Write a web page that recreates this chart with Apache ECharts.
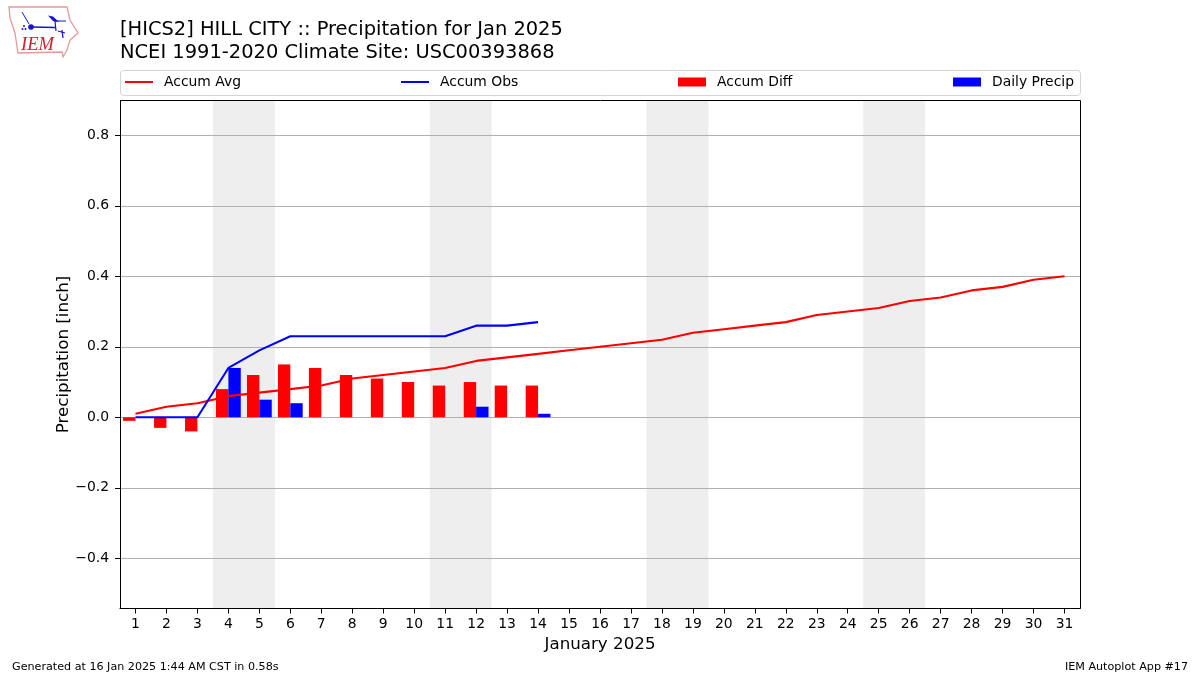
<!DOCTYPE html>
<html><head><meta charset="utf-8">
<script src="https://cdn.jsdelivr.net/npm/echarts@6/dist/echarts.min.js"></script>
<style>html,body{margin:0;padding:0;background:#fff}#c{width:1200px;height:675px}</style>
</head><body><div id="c"></div>
<script>
const days = ["1","2","3","4","5","6","7","8","9","10","11","12","13","14","15","16","17","18","19","20","21","22","23","24","25","26","27","28","29","30","31"];
const accumAvg = [0.01,0.03,0.04,0.06,0.07,0.08,0.09,0.11,0.12,0.13,0.14,0.16,0.17,0.18,0.19,0.20,0.21,0.22,0.24,0.25,0.26,0.27,0.29,0.30,0.31,0.33,0.34,0.36,0.37,0.39,0.40];
const accumObs = [0,0,0,0.14,0.19,0.23,0.23,0.23,0.23,0.23,0.23,0.26,0.26,0.27];
const accumDiff = [-0.01,-0.03,-0.04,0.08,0.12,0.15,0.14,0.12,0.11,0.10,0.09,0.10,0.09,0.09];
const dailyPrecip = [0,0,0,0.14,0.05,0.04,0,0,0,0,0,0.03,0,0.01];
const weekends = [[3.5,5.5],[10.5,12.5],[17.5,19.5],[24.5,26.5]];
const yTicks = [-0.4,-0.2,0,0.2,0.4,0.6,0.8];
const FONT = '"DejaVu Sans"';
const chart = echarts.init(document.getElementById('c'), null, {renderer:'canvas'});
const legendTpl = (name,left,top,h) => ({data:[{name,icon:'rect'}],left,top,itemWidth:28,itemHeight:h,itemGap:10,padding:0,
  textStyle:{fontFamily:FONT,fontSize:13.9,color:'#000',padding:[0,0,0,6]}});
chart.setOption({
  animation:false,
  textStyle:{fontFamily:FONT},
  title:[
    {text:'[HICS2] HILL CITY :: Precipitation for Jan 2025\nNCEI 1991-2020 Climate Site: USC00393868',left:120,top:19,padding:0,
     textStyle:{fontFamily:FONT,fontSize:19.44,fontWeight:'normal',color:'#000',lineHeight:22.5}}
  ],
  legend:[legendTpl('Accum Avg',125,75,2),legendTpl('Accum Obs',401,75,2),legendTpl('Accum Diff',678,75,9),legendTpl('Daily Precip',953,75,9)],
  grid:{left:120,top:100.5,width:960,height:508,show:false,containLabel:false},
  xAxis:[
    {type:'category',data:days,name:'January 2025',nameLocation:'middle',nameGap:28,nameMoveOverlap:false,
     nameTextStyle:{fontFamily:FONT,fontSize:16.7,color:'#000'},
     axisLine:{show:true,lineStyle:{color:'#000',width:1},onZero:false},
     axisTick:{show:true,interval:0,alignWithLabel:true,length:5,lineStyle:{color:'#000',width:1}},
     axisLabel:{fontFamily:FONT,fontSize:13.9,color:'#000',margin:9,interval:0},
     splitLine:{show:false}},
    {type:'value',min:0.5,max:31.5,show:false}
  ],
  yAxis:{type:'value',min:-0.5424,max:0.8987,name:'Precipitation [inch]',nameLocation:'middle',nameGap:48,nameMoveOverlap:false,
     nameTextStyle:{fontFamily:FONT,fontSize:16.7,color:'#000'},
     axisLine:{show:true,lineStyle:{color:'#000',width:1}},
     axisTick:{show:true,length:5,lineStyle:{color:'#000',width:1},customValues:yTicks},
     axisLabel:{fontFamily:FONT,fontSize:13.9,color:'#000',margin:11,padding:[6,0,0,0],customValues:yTicks,
       formatter:v=>(v<0?'\u2212':'')+Math.abs(v).toFixed(1)},
     splitLine:{show:true,lineStyle:{color:'#b0b0b0',width:1}}},
  series:[
    {type:'custom',name:'Weekend',xAxisIndex:1,z:-1,silent:true,data:weekends,encode:{x:[0,1]},clip:true,
     renderItem:(p,api)=>{const a=api.coord([api.value(0),0]),b=api.coord([api.value(1),0]);
       return {type:'rect',shape:{x:a[0],y:p.coordSys.y,width:b[0]-a[0],height:p.coordSys.height},style:{fill:'#eeeeee'}};}},
    {type:'bar',name:'Accum Diff',data:accumDiff,barWidth:'40%',barGap:0,itemStyle:{color:'#ff0000'},z:2},
    {type:'bar',name:'Daily Precip',data:dailyPrecip,barWidth:'40%',barGap:0,itemStyle:{color:'#0000ff'},z:2},
    {type:'line',name:'Accum Avg',data:accumAvg,symbol:'none',lineStyle:{color:'#ff0000',width:2.08},itemStyle:{color:'#ff0000'},z:3},
    {type:'line',name:'Accum Obs',data:accumObs,symbol:'none',lineStyle:{color:'#0000ff',width:2.08},itemStyle:{color:'#0000ff'},z:3}
  ],
  graphic:[
    {type:'rect',shape:{x:120.5,y:70.5,width:960,height:25,r:3},style:{fill:'#fff',stroke:'#d4d4d4',lineWidth:1},z:-5},
    {type:'rect',shape:{x:120.5,y:100.5,width:960,height:508},style:{fill:'none',stroke:'#000',lineWidth:1},z:10,silent:true},
    {type:'text',left:12,top:662,style:{text:'Generated at 16 Jan 2025 1:44 AM CST in 0.58s',font:'11.15px "DejaVu Sans"',fill:'#000'}},
    {type:'text',right:12,top:662,style:{text:'IEM Autoplot App #17',font:'11.15px "DejaVu Sans"',fill:'#000'}},
    {type:'polygon',shape:{points:[[9,7],[67,7],[70,20],[78,33],[70,40],[67,50],[63,57],[62,52],[18,53],[15,33],[10,18]]},style:{fill:'none',stroke:'#e59a9a',lineWidth:1.3}},
    {type:'text',left:21,top:36,style:{text:'IEM',font:'italic 18.5px "Liberation Serif"',fill:'#d02030'}},
    {type:'polyline',shape:{points:[[31,27],[55,27.5]]},style:{stroke:'#1515d0',lineWidth:1.6,fill:'none'}},
    {type:'polyline',shape:{points:[[22,12],[29,24]]},style:{stroke:'#1515d0',lineWidth:1,fill:'none'}},
    {type:'circle',shape:{cx:31,cy:27,r:2.8},style:{fill:'#1515d0'}},
    {type:'polygon',shape:{points:[[48,15.5],[53,16.5],[59,22],[53,21]]},style:{fill:'#1515d0'}},
    {type:'polyline',shape:{points:[[54,21],[66,21]]},style:{stroke:'#1515d0',lineWidth:1,fill:'none'}},
    {type:'polyline',shape:{points:[[55,21],[56,31]]},style:{stroke:'#1515d0',lineWidth:1.2,fill:'none'}},
    {type:'polyline',shape:{points:[[62,30],[63,38]]},style:{stroke:'#1515d0',lineWidth:1.2,fill:'none'}},
    {type:'polyline',shape:{points:[[58,31],[65,33]]},style:{stroke:'#1515d0',lineWidth:1.2,fill:'none'}},
    {type:'circle',shape:{cx:24,cy:26,r:1},style:{fill:'#1515d0'}},
    {type:'circle',shape:{cx:22.5,cy:29,r:1},style:{fill:'#1515d0'}},
    {type:'circle',shape:{cx:25.5,cy:29,r:1},style:{fill:'#1515d0'}}
  ]
});
</script></body></html>
